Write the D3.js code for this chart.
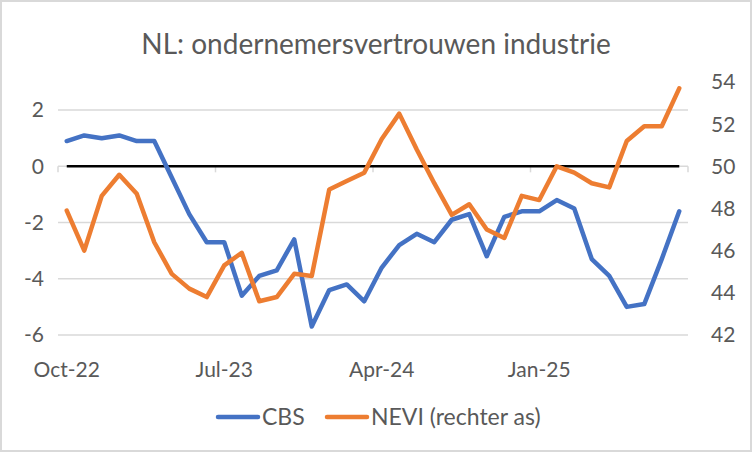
<!DOCTYPE html>
<html>
<head>
<meta charset="utf-8">
<title>NL: ondernemersvertrouwen industrie</title>
<script src="https://cdn.jsdelivr.net/npm/d3@7"></script>
<style>
  body { margin: 0; background: #fff; }
  svg { display: block; font-family: Lato, "Open Sans", sans-serif; }
</style>
</head>
<body>
<script>
// monthly, Oct-22 .. Sep-25
let months = ["Oct-22","Nov-22","Dec-22","Jan-23","Feb-23","Mar-23","Apr-23","May-23","Jun-23",
  "Jul-23","Aug-23","Sep-23","Oct-23","Nov-23","Dec-23","Jan-24","Feb-24","Mar-24",
  "Apr-24","May-24","Jun-24","Jul-24","Aug-24","Sep-24","Oct-24","Nov-24","Dec-24",
  "Jan-25","Feb-25","Mar-25","Apr-25","May-25","Jun-25","Jul-25","Aug-25","Sep-25"];

let cbs = [0.9, 1.1, 1.0, 1.1, 0.9, 0.9, -0.4, -1.7, -2.7,
  -2.7, -4.6, -3.9, -3.7, -2.6, -5.7, -4.4, -4.2, -4.8,
  -3.6, -2.8, -2.4, -2.7, -1.9, -1.7, -3.2, -1.8, -1.6,
  -1.6, -1.2, -1.5, -3.3, -3.9, -5.0, -4.9, -3.3, -1.6];

let nevi = [47.9, 46.0, 48.6, 49.6, 48.7, 46.4, 44.9, 44.2, 43.8,
  45.3, 45.9, 43.6, 43.8, 44.9, 44.8, 48.9, 49.3, 49.7,
  51.3, 52.5, 50.8, 49.2, 47.7, 48.2, 47.0, 46.6, 48.6,
  48.4, 50.0, 49.7, 49.2, 49.0, 51.2, 51.9, 51.9, 53.7];

let leftTicks = [-6, -4, -2, 0, 2];
let rightTicks = [42, 44, 46, 48, 50, 52, 54];
let xLabels = ["Oct-22", "Jul-23", "Apr-24", "Jan-25"];
let seriesNames = ["CBS", "NEVI (rechter as)"];

let width = 752, height = 452,
    margins = { left: 58, top: 82, right: 64, bottom: 117 },
    textColor = "#595959",
    gridColor = "#D9D9D9",
    blue = "#4472C4", orange = "#ED7D31";

let svg = d3.select("body").append("svg")
    .attr("width", width)
    .attr("height", height);

// outer chart border
svg.append("rect")
    .attr("x", 1).attr("y", 1)
    .attr("width", width - 2).attr("height", height - 2)
    .attr("fill", "#fff")
    .attr("stroke", gridColor)
    .attr("stroke-width", 2);

let x = d3.scaleBand()
    .domain(months)
    .range([margins.left, width - margins.right]);

let yL = d3.scaleLinear().domain([-6, 3]).range([height - margins.bottom, margins.top]);
let yR = d3.scaleLinear().domain([42, 54]).range([height - margins.bottom, margins.top]);

function cx(d) { return x(d) + x.bandwidth() / 2; }

// gridlines
svg.append("g").selectAll("line")
    .data(leftTicks.filter(function (t) { return t !== 0; }))
    .enter().append("line")
    .attr("x1", margins.left).attr("x2", width - margins.right)
    .attr("y1", function (d) { return yL(d); })
    .attr("y2", function (d) { return yL(d); })
    .attr("stroke", gridColor)
    .attr("stroke-width", 1.5);

// category axis at 0 with ticks every 9 months
let tickBounds = d3.range(0, months.length + 1, 9);
let axisG = svg.append("g");
axisG.append("line")
    .attr("x1", margins.left).attr("x2", width - margins.right)
    .attr("y1", yL(0)).attr("y2", yL(0))
    .attr("stroke", gridColor).attr("stroke-width", 1.5);
axisG.selectAll("line.tick")
    .data(tickBounds)
    .enter().append("line")
    .attr("class", "tick")
    .attr("x1", function (i) { return margins.left + i * x.step(); })
    .attr("x2", function (i) { return margins.left + i * x.step(); })
    .attr("y1", yL(0)).attr("y2", yL(0) + 6)
    .attr("stroke", gridColor).attr("stroke-width", 1.5);

// zero line (black)
let zeroLine = d3.line()
    .x(function (d) { return cx(d); })
    .y(function () { return yL(0); });
svg.append("path")
    .attr("d", zeroLine(months))
    .attr("fill", "none")
    .attr("stroke", "#000")
    .attr("stroke-width", 2.5);

// series
let lineL = d3.line()
    .x(function (d, i) { return cx(months[i]); })
    .y(function (d) { return yL(d); });
let lineR = d3.line()
    .x(function (d, i) { return cx(months[i]); })
    .y(function (d) { return yR(d); });

svg.append("path")
    .attr("d", lineL(cbs))
    .attr("fill", "none")
    .attr("stroke", blue)
    .attr("stroke-width", 4.5)
    .attr("stroke-linejoin", "round")
    .attr("stroke-linecap", "round");

svg.append("path")
    .attr("d", lineR(nevi))
    .attr("fill", "none")
    .attr("stroke", orange)
    .attr("stroke-width", 4.5)
    .attr("stroke-linejoin", "round")
    .attr("stroke-linecap", "round");

// left axis labels
svg.append("g").selectAll("text")
    .data(leftTicks)
    .enter().append("text")
    .attr("x", 44)
    .attr("y", function (d) { return yL(d); })
    .attr("dy", "0.35em")
    .attr("text-anchor", "end")
    .attr("fill", textColor)
    .attr("font-size", 21)
    .text(function (d) { return d; });

// right axis labels
svg.append("g").selectAll("text")
    .data(rightTicks)
    .enter().append("text")
    .attr("x", 711)
    .attr("y", function (d) { return yR(d); })
    .attr("dy", "0.35em")
    .attr("text-anchor", "start")
    .attr("fill", textColor)
    .attr("font-size", 21)
    .text(function (d) { return d; });

// category labels
svg.append("g").selectAll("text")
    .data(xLabels)
    .enter().append("text")
    .attr("x", function (d) { return cx(d); })
    .attr("y", 377)
    .attr("text-anchor", "middle")
    .attr("fill", textColor)
    .attr("font-size", 21)
    .text(function (d) { return d; });

// title
svg.append("text")
    .attr("x", 376)
    .attr("y", 54)
    .attr("text-anchor", "middle")
    .attr("fill", textColor)
    .attr("font-size", 28)
    .text("NL: ondernemersvertrouwen industrie");

// legend
let legend = svg.append("g").attr("transform", "translate(0,417)");
let legendItems = [
  { name: seriesNames[0], color: blue, x: 216 },
  { name: seriesNames[1], color: orange, x: 325 }
];
let li = legend.selectAll("g").data(legendItems).enter().append("g")
    .attr("transform", function (d) { return "translate(" + d.x + ",0)"; });
li.append("line")
    .attr("x1", 2).attr("x2", 42)
    .attr("stroke", function (d) { return d.color; })
    .attr("stroke-width", 4.5)
    .attr("stroke-linecap", "round");
li.append("text")
    .attr("x", 46)
    .attr("dy", "0.35em")
    .attr("fill", textColor)
    .attr("font-size", 23)
    .text(function (d) { return d.name; });
</script>
</body>
</html>
